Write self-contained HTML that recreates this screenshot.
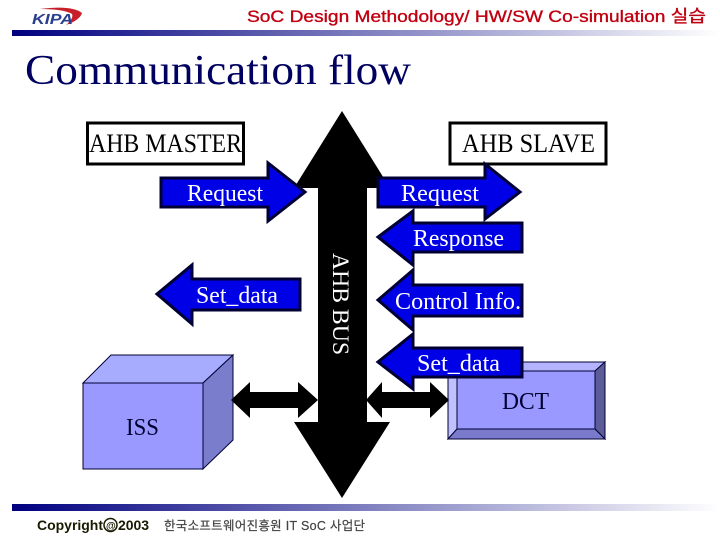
<!DOCTYPE html>
<html>
<head>
<meta charset="utf-8">
<style>
html,body{margin:0;padding:0;background:#fff;width:720px;height:540px;overflow:hidden}
svg{display:block}
.s{font-family:"Liberation Serif","Noto Serif CJK SC",serif}
.a{font-family:"Liberation Sans","Noto Sans CJK KR",sans-serif}
.bl{fill:#0000e6;stroke:#000033;stroke-width:3;stroke-linejoin:miter}
.w{fill:#fff;font-size:24px}
</style>
</head>
<body>
<svg width="720" height="540" viewBox="0 0 720 540" xmlns="http://www.w3.org/2000/svg">
<defs>
<linearGradient id="g" x1="0" x2="1" y1="0" y2="0">
<stop offset="0" stop-color="#000080"/>
<stop offset="1" stop-color="#ffffff"/>
</linearGradient>
</defs>
<rect width="720" height="540" fill="#fff"/>

<!-- header -->
<rect x="12" y="30" width="708" height="6" fill="url(#g)"/>
<path d="M40 9 Q72 5 82 13 Q80 20 66 25 Q74 18 72 14 Q64 9 40 9Z" fill="#c8202a"/>
<text class="a" x="32" y="24" font-size="15" font-weight="bold" font-style="italic" fill="#2a3f8f" textLength="41" lengthAdjust="spacingAndGlyphs">KIPA</text>
<text class="a" x="247" y="22" font-size="17" fill="#c00010" stroke="#c00010" stroke-width=".35" textLength="459" lengthAdjust="spacingAndGlyphs">SoC Design Methodology/ HW/SW Co-simulation 실습</text>
<text class="s" x="25" y="84" font-size="42" fill="#000060" textLength="386" lengthAdjust="spacingAndGlyphs">Communication flow</text>

<!-- bus -->
<polygon points="342,111 390,188 367,188 367,422 390,422 342,498 294,422 318,422 318,188 294,188" fill="#000"/>
<text class="s" transform="translate(333,253) rotate(90)" font-size="23" fill="#fff" textLength="102" lengthAdjust="spacingAndGlyphs">AHB BUS</text>

<!-- ISS -->
<polygon points="83,383 111,355 233,355 203,383" fill="#a8acff" stroke="#000033"/>
<polygon points="203,383 233,355 233,440 203,469" fill="#7a7ccc" stroke="#000033"/>
<rect x="83" y="383" width="120" height="86" fill="#9999ff" stroke="#000033"/>
<text class="s" x="126" y="435" font-size="24" fill="#000033" textLength="33" lengthAdjust="spacingAndGlyphs">ISS</text>

<!-- DCT -->
<rect x="448" y="362" width="157" height="77" fill="#9999ff" stroke="#000033"/>
<polygon points="448,362 605,362 595,371 457,371" fill="#b3b3ff" stroke="#000033"/>
<polygon points="448,362 457,371 457,429 448,439" fill="#c0c0ff" stroke="#000033"/>
<polygon points="605,362 605,439 595,429 595,371" fill="#5c5c99" stroke="#000033"/>
<polygon points="448,439 457,429 595,429 605,439" fill="#7a7acc" stroke="#000033"/>
<rect x="457" y="371" width="138" height="58" fill="#9999ff" stroke="#000033"/>
<text class="s" x="502" y="409" font-size="24" fill="#000033" textLength="47" lengthAdjust="spacingAndGlyphs">DCT</text>

<!-- double arrows -->
<polygon points="231,400 250,382 250,392 298,392 298,382 318,400 298,418 298,408 250,408 250,418" fill="#000"/>
<polygon points="366,400 382,382 382,392 430,392 430,382 449,400 430,418 430,408 382,408 382,418" fill="#000"/>

<!-- boxes -->
<rect x="87.5" y="123" width="156" height="41" fill="#fff" stroke="#000" stroke-width="3"/>
<text class="s" x="89" y="152" font-size="26" fill="#000" textLength="153" lengthAdjust="spacingAndGlyphs">AHB MASTER</text>
<rect x="450" y="123" width="156" height="41" fill="#fff" stroke="#000" stroke-width="3"/>
<text class="s" x="462" y="152" font-size="26" fill="#000" textLength="133" lengthAdjust="spacingAndGlyphs">AHB SLAVE</text>

<!-- blue arrows -->
<polygon class="bl" points="161,178 268,178 268,163 305,192 268,221 268,207 161,207"/>
<text class="s w" x="187" y="201" textLength="76" lengthAdjust="spacingAndGlyphs">Request</text>

<polygon class="bl" points="300,279 192,279 192,265 157,294 192,324 192,310 300,310"/>
<text class="s w" x="196" y="303" textLength="82" lengthAdjust="spacingAndGlyphs">Set_data</text>

<polygon class="bl" points="378,178 485,178 485,164 520,192 485,219 485,207 378,207"/>
<text class="s w" x="401" y="201" textLength="78" lengthAdjust="spacingAndGlyphs">Request</text>

<polygon class="bl" points="522,223 413,223 413,211 378,237 413,265 413,252 522,252"/>
<text class="s w" x="413" y="246" textLength="91" lengthAdjust="spacingAndGlyphs">Response</text>

<polygon class="bl" points="522,285 413,285 413,270 378,300 413,330 413,316 522,316"/>
<text class="s w" x="395" y="309" textLength="126" lengthAdjust="spacingAndGlyphs">Control Info.</text>

<polygon class="bl" points="522,348 413,348 413,334 378,362 413,389 413,377 522,377"/>
<text class="s w" x="417" y="371" textLength="83" lengthAdjust="spacingAndGlyphs">Set_data</text>

<!-- footer -->
<rect x="12" y="504" width="708" height="7" fill="url(#g)"/>
<text class="a" x="37" y="530" font-size="14" font-weight="bold" fill="#1a1a00" textLength="66" lengthAdjust="spacing">Copyright</text>
<circle cx="110.500" cy="525" r="6.500" fill="none" stroke="#1a1a00" stroke-width="1.500"/>
<text class="a" x="106" y="529" font-size="10" font-weight="bold" fill="#1a1a00">@</text>
<text class="a" x="118" y="530" font-size="14" font-weight="bold" fill="#1a1a00" textLength="31" lengthAdjust="spacing">2003</text>
<text class="a" x="164" y="530" font-size="12.500" fill="#444" stroke="#444" stroke-width=".2" textLength="201" lengthAdjust="spacing">한국소프트웨어진흥원  IT SoC 사업단</text>
</svg>
</body>
</html>
